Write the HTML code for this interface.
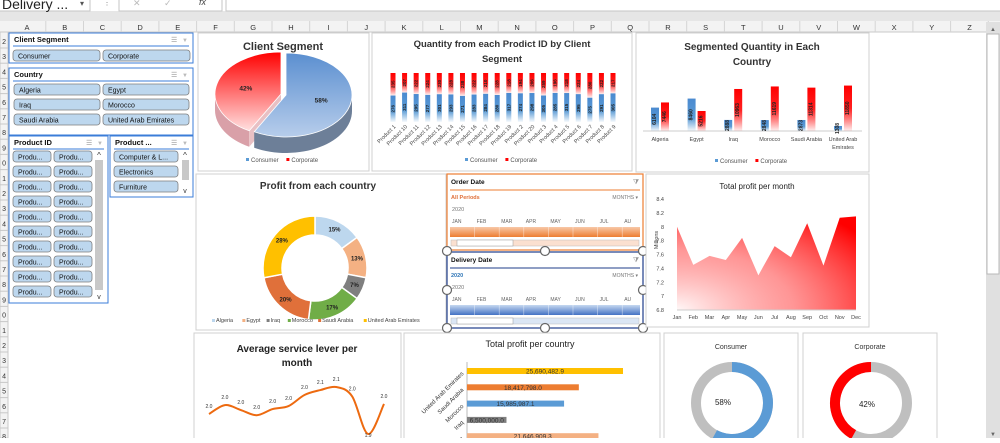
<!DOCTYPE html>
<html><head><meta charset="utf-8">
<style>
html,body{margin:0;padding:0;background:#fff;}
body{width:1000px;height:438px;overflow:hidden;position:relative;font-family:"Liberation Sans",sans-serif;}
svg text{font-family:"Liberation Sans",sans-serif;}
</style></head>
<body>
<svg id="s" width="1000" height="438" viewBox="0 0 1000 438" xmlns="http://www.w3.org/2000/svg">
<defs>
<linearGradient id="gBlueV" x1="0" y1="0" x2="0" y2="1"><stop offset="0" stop-color="#4a8ad0"/><stop offset="0.6" stop-color="#5b9bd5"/><stop offset="1" stop-color="#5b9bd5" stop-opacity="0.05"/></linearGradient>
<linearGradient id="gRedV" x1="0" y1="0" x2="0" y2="1"><stop offset="0" stop-color="#ff0000"/><stop offset="0.5" stop-color="#ff2020"/><stop offset="1" stop-color="#ff0000" stop-opacity="0.05"/></linearGradient>
<radialGradient id="gArea" cx="0" cy="1" r="1.3"><stop offset="0" stop-color="#ff0000" stop-opacity="0.03"/><stop offset="0.5" stop-color="#ff4040" stop-opacity="0.55"/><stop offset="1" stop-color="#ff0000" stop-opacity="1"/></radialGradient>
<linearGradient id="gPieBlue" x1="0" y1="0" x2="0" y2="1"><stop offset="0" stop-color="#5b8fd0"/><stop offset="1" stop-color="#b7cdeb"/></linearGradient>
<linearGradient id="gPieRed" x1="0" y1="0" x2="0" y2="1"><stop offset="0" stop-color="#ff0000"/><stop offset="1" stop-color="#ffe0e0"/></linearGradient>
<linearGradient id="gOrangeBar" x1="0" y1="0" x2="0" y2="1"><stop offset="0" stop-color="#f8c8a8"/><stop offset="1" stop-color="#ed7d31"/></linearGradient>
<linearGradient id="gBlueBar" x1="0" y1="0" x2="0" y2="1"><stop offset="0" stop-color="#c6d8f0"/><stop offset="1" stop-color="#4472c4"/></linearGradient>
</defs>
<g id="chrome"></g>
<g id="slicers"></g>
<g id="charts"></g>
</svg>
<script>
const NS='http://www.w3.org/2000/svg';
const S=document.getElementById('s');
function mk(tag,attrs,parent){const e=document.createElementNS(NS,tag);for(const k in attrs)e.setAttribute(k,attrs[k]);(parent||S).appendChild(e);return e;}
function tx(x,y,str,attrs,parent){const e=mk('text',Object.assign({x:x,y:y,'font-size':7,fill:'#333'},attrs||{}),parent);e.textContent=str;return e;}

/* ===== DATA ===== */
const segLabels=['Consumer','Corporate'];
const segShare=[58,42];
const products=['Product 1','Product 10','Product 11','Product 12','Product 13','Product 14','Product 15','Product 16','Product 17','Product 18','Product 19','Product 2','Product 20','Product 3','Product 4','Product 5','Product 6','Product 7','Product 8','Product 9'];
const prodConsumer=[276,311,295,277,301,293,271,283,284,280,317,274,298,305,285,315,295,275,291,305];
const prodCorporate=[235,207,222,224,230,228,238,222,210,228,218,194,206,259,196,218,224,280,222,217];
const countries=['Algeria','Egypt','Iraq','Morocco','Saudi Arabia','United Arab Emirates'];
const ctyConsumer=[6104,8460,2888,2848,2873,1308];
const ctyCorporate=[7446,5216,10963,11619,11314,11850];
const profitShare=[15,13,7,17,20,28];
const profitColors=['#bdd7ee','#f4b183','#7f7f7f','#70ad47','#e0703a','#ffc000'];
const months=['Jan','Feb','Mar','Apr','May','Jun','Jul','Aug','Sep','Oct','Nov','Dec'];
const monthProfit=[8.0,7.45,7.58,7.52,7.84,7.3,7.72,7.56,8.05,7.44,8.13,8.15];
const monthTicks=[6.8,7,7.2,7.4,7.6,7.8,8,8.2,8.4];
const serviceLevel=[1.965,2.003,1.982,1.96,1.986,1.999,2.046,2.067,2.08,2.04,1.88,2.008];
const barCountries=['United Arab Emirates','Saudi Arabia','Morocco','Iraq','Egypt'];
const barProfit=[25690482.9,18417798.0,15985987.1,6500000,21646909.3];
const barColors=['#ffc000','#ed7d31','#5b9bd5','#7f7f7f','#f4b183'];

/* ===== CHROME ===== */
const C=document.getElementById('chrome');
let e;
e=mk('rect',{x:0,y:11,width:1000,height:10,fill:'#e6e6e6'},C);

e=mk('rect',{x:-2,y:-4,width:92,height:15,fill:'#fff',stroke:'#c6c6c6'},C);

tx(2,9,'Delivery ...',{'font-size':14,fill:'#222'},C);
tx(80,6,'▾',{'font-size':8,fill:'#555'},C);
tx(103,5,'⋮',{'font-size':8,fill:'#888'},C);
e=mk('rect',{x:119,y:-4,width:103,height:15,fill:'#fff',stroke:'#c6c6c6'},C);

tx(133,6,'✕',{'font-size':9,fill:'#bbb'},C);
tx(164,6,'✓',{'font-size':9,fill:'#bbb'},C);
tx(199,5,'fx',{'font-size':9,fill:'#444','font-style':'italic'},C);
e=mk('rect',{x:226,y:-4,width:780,height:15,fill:'#fff',stroke:'#c6c6c6'},C);

e=mk('rect',{x:0,y:21,width:1000,height:11,fill:'#f3f3f3'},C);

mk('line',{x1:0,y1:32,x2:1000,y2:32,stroke:'#c8c8c8'},C);
const cols='ABCDEFGHIJKLMNOPQRSTUVWXYZ';
for(let i=0;i<cols.length;i++){const cx=27+i*37.7;
 tx(cx,30,cols[i],{'text-anchor':'middle','font-size':7.5,fill:'#333'},C);
 mk('line',{x1:cx+18.8,y1:21,x2:cx+18.8,y2:32,stroke:'#d4d4d4'},C);}
e=mk('rect',{x:0,y:32,width:8,height:406,fill:'#f3f3f3',stroke:'#c8c8c8'},C);

for(let i=0;i<27;i++){const ry=33+i*15.2;mk('line',{x1:0,y1:ry+15,x2:8,y2:ry+15,stroke:'#c8c8c8'},C);
 tx(6,ry+11,String((i+2)%10),{'font-size':7,fill:'#333','text-anchor':'end'},C);}
e=mk('rect',{x:986,y:22,width:14,height:416,fill:'#e0e0e0'},C);

e=mk('rect',{x:987,y:34,width:12,height:240,fill:'#fff',stroke:'#b8b8b8'},C);

tx(993,31,'▲',{'font-size':6,fill:'#666','text-anchor':'middle'},C);
tx(993,436,'▼',{'font-size':6,fill:'#666','text-anchor':'middle'},C);

/* ===== SLICERS ===== */
const SL=document.getElementById('slicers');
function slicer(x,y,w,h,title,name){
 const g=mk('g',{},SL);
 mk('rect',{x:x,y:y,width:w,height:h,fill:'#fff',stroke:'#3b7dd8','stroke-width':1},g);
 tx(x+5,y+9,title,{'font-size':7.5,'font-weight':'bold',fill:'#111'},g);
 tx(x+w-22,y+9,'☰',{'font-size':7,fill:'#999'},g);
 tx(x+w-11,y+9,'▼',{'font-size':6,fill:'#bbb'},g);
 mk('line',{x1:x+4,y1:y+13,x2:x+w-4,y2:y+13,stroke:'#3b7dd8'},g);
 return g;}
function btn(g,x,y,w,label,name){const b=mk('rect',{x:x,y:y,width:w,height:11,rx:3,fill:'#bdd7ee',stroke:'#7f7f7f','stroke-width':0.8},g);
 
 tx(x+5,y+8.5,label,{'font-size':7,fill:'#111'},g);}
let g=slicer(9,33,184,30,'Client Segment','client-segment-slicer');
btn(g,13,50,87,'Consumer','consumer-button');btn(g,103,50,87,'Corporate','corporate-button');
g=slicer(9,68,184,67,'Country','country-slicer');
const cb=[['Algeria','Egypt'],['Iraq','Morocco'],['Saudi Arabia','United Arab Emirates']];
for(let r=0;r<3;r++){btn(g,14,84+r*15,86,cb[r][0],'country-button');btn(g,103,84+r*15,86,cb[r][1],'country-button');}
g=slicer(9,136,99,167,'Product ID','product-id-slicer');
for(let r=0;r<10;r++){btn(g,13,151+r*15,38,'Produ...','product-button');btn(g,54,151+r*15,38,'Produ...','product-button');}
e=mk('rect',{x:95,y:160,width:8,height:130,fill:'#c8c8c8'},g);
tx(99,158,'^',{'font-size':8,'text-anchor':'middle',fill:'#333'},g);tx(99,299,'v',{'font-size':7,'text-anchor':'middle',fill:'#333'},g);
g=slicer(110,136,83,61,'Product ...','product-category-slicer');
btn(g,114,151,64,'Computer & L...','category-button');btn(g,114,166,64,'Electronics','category-button');btn(g,114,181,64,'Furniture','category-button');
e=mk('rect',{x:182,y:160,width:7,height:20,fill:'#c8c8c8'},g);
tx(185,158,'^',{'font-size':8,'text-anchor':'middle',fill:'#333'},g);tx(185,193,'v',{'font-size':7,'text-anchor':'middle',fill:'#333'},g);

/* ===== CHARTS ===== */
const CH=document.getElementById('charts');
function panel(x,y,w,h,name){const g=mk('g',{},CH);
 mk('rect',{x:x,y:y,width:w,height:h,fill:'#fff',stroke:'#d0d0d0'},g);return g;}
function legend(g,x,y,items){let cx=x;items.forEach(it=>{const r=mk('rect',{x:cx,y:y-4,width:3,height:3,fill:it[1]},g);
 
 const t=tx(cx+5,y,it[0],{'font-size':6,fill:'#555'},g);cx+=8+it[0].length*3.3+6;});}

/* Client segment 3D pie */
g=panel(198,33,171,138,'client-segment-chart');
tx(283,50,'Client Segment',{'font-size':11,'font-weight':'bold','text-anchor':'middle',fill:'#333'},g);
(function(){const cx=286,cy=95,rx=66,ry=42,d=16;
 const tot=segShare.reduce((a,b)=>a+b,0);
 const a0=-Math.PI/2,a1=a0+2*Math.PI*segShare[0]/tot;
 const P=(a,ox,oy,dy)=>[ox+rx*Math.cos(a),oy+ry*Math.sin(a)+(dy||0)];
 function side(s,e2,ox,oy,fill,name){const st=Math.max(s,0),en=Math.min(e2,Math.PI);if(en<=st)return;
  const p1=P(st,ox,oy),p2=P(en,ox,oy);
  const el=mk('path',{d:`M${p1[0]},${p1[1]} A${rx},${ry} 0 0 1 ${p2[0]},${p2[1]} L${p2[0]},${p2[1]+d} A${rx},${ry} 0 0 0 ${p1[0]},${p1[1]+d} Z`,fill:fill},g);
  }
 const oxR=cx-5,oyR=cy-1;
 side(a1,a0+2*Math.PI,oxR,oyR,'#d9a0a8','pie-side-corporate');
 let pc=P(a1,oxR,oyR);e=mk('path',{d:`M${oxR},${oyR} L${pc[0]},${pc[1]} L${pc[0]},${pc[1]+d} L${oxR},${oyR+d} Z`,fill:'#e8c0c4'},g);
 
 side(a0,a1,cx,cy,'#6d7f98','pie-side-consumer');
 let p0=P(a0,cx,cy),p1=P(a1,cx,cy);
 e=mk('path',{d:`M${cx},${cy} L${p0[0]},${p0[1]} A${rx},${ry} 0 ${(a1-a0)>Math.PI?1:0} 1 ${p1[0]},${p1[1]} Z`,fill:'url(#gPieBlue)',stroke:'#fff','stroke-width':0.8},g);
 
 p0=P(a1,oxR,oyR);p1=P(a0+2*Math.PI,oxR,oyR);
 e=mk('path',{d:`M${oxR},${oyR} L${p0[0]},${p0[1]} A${rx},${ry} 0 ${(2*Math.PI-(a1-a0))>Math.PI?1:0} 1 ${p1[0]},${p1[1]} Z`,fill:'url(#gPieRed)',stroke:'#fff','stroke-width':0.8},g);
 
 const m0=(a0+a1)/2,m1=(a1+a0+2*Math.PI)/2;
 tx(cx+rx*0.55*Math.cos(m0),cy+ry*0.55*Math.sin(m0)+2,segShare[0]+'%',{'font-size':6.5,'font-weight':'bold','text-anchor':'middle',fill:'#222'},g);
 tx(oxR+rx*0.55*Math.cos(m1),oyR+ry*0.55*Math.sin(m1)+2,segShare[1]+'%',{'font-size':6.5,'font-weight':'bold','text-anchor':'middle',fill:'#222'},g);
})();
legend(g,246,162,[['Consumer','#5b9bd5'],['Corporate','#ff0000']]);

/* Quantity by product - 100% stacked */
g=panel(372,33,260,138,'quantity-by-product-chart');
tx(502,47,'Quantity from each Prodict ID by Client',{'font-size':9.5,'font-weight':'bold','text-anchor':'middle',fill:'#333'},g);
tx(502,62,'Segment',{'font-size':9.5,'font-weight':'bold','text-anchor':'middle',fill:'#333'},g);
(function(){const x0=393,x1=613,top=73,bot=122,n=products.length,step=(x1-x0)/(n-1),bw=5;
 const xs=i=>x0+i*step;
 for(let i=0;i<n;i++){const t=prodConsumer[i]+prodCorporate[i];const hb=(bot-top)*prodConsumer[i]/t;const yb=bot-hb;
  let r=mk('rect',{x:xs(i)-bw/2,y:yb,width:bw,height:hb,fill:'url(#gBlueV)'},g);
  
  r=mk('rect',{x:xs(i)-bw/2,y:top,width:bw,height:yb-top,fill:'url(#gRedV)'},g);
  
  tx(xs(i)+1.5,(yb+bot)/2,String(prodConsumer[i]),{'font-size':4.5,'font-weight':'bold','text-anchor':'middle',transform:`rotate(-90 ${xs(i)+1.5} ${(yb+bot)/2})`,fill:'#222'},g);
  tx(xs(i)+1.5,(yb+top)/2,String(prodCorporate[i]),{'font-size':4.5,'font-weight':'bold','text-anchor':'middle',transform:`rotate(-90 ${xs(i)+1.5} ${(yb+top)/2})`,fill:'#222'},g);
  tx(xs(i)+3,127,products[i],{'font-size':5.5,'text-anchor':'end',transform:`rotate(-45 ${xs(i)+3} 127)`,fill:'#444'},g);}
})();
legend(g,465,162,[['Consumer','#5b9bd5'],['Corporate','#ff0000']]);

/* Segmented quantity by country */
g=panel(636,33,233,139,'segmented-quantity-chart');
tx(752,50,'Segmented Quantity in Each',{'font-size':10,'font-weight':'bold','text-anchor':'middle',fill:'#333'},g);
tx(752,65,'Country',{'font-size':10,'font-weight':'bold','text-anchor':'middle',fill:'#333'},g);
(function(){const bot=131,max=12000,h=46,x0=660,step=36.6,bw=8;
 const ys=v=>bot-h*v/max;
 mk('line',{x1:643,y1:bot,x2:862,y2:bot,stroke:'#ccc'},g);
 for(let i=0;i<countries.length;i++){const cx=x0+i*step;
  let r=mk('rect',{x:cx-bw-1,y:ys(ctyConsumer[i]),width:bw,height:bot-ys(ctyConsumer[i]),fill:'url(#gBlueV)'},g);
  
  r=mk('rect',{x:cx+1,y:ys(ctyCorporate[i]),width:bw,height:bot-ys(ctyCorporate[i]),fill:'url(#gRedV)'},g);
  
  const lb=(ys(ctyConsumer[i])+bot)/2,lr=(ys(ctyCorporate[i])+bot)/2;
  tx(cx-4,lb,String(ctyConsumer[i]),{'font-size':5,'font-weight':'bold','text-anchor':'middle',transform:`rotate(-90 ${cx-4} ${lb})`,fill:'#222'},g);
  tx(cx+6,lr,String(ctyCorporate[i]),{'font-size':5,'font-weight':'bold','text-anchor':'middle',transform:`rotate(-90 ${cx+6} ${lr})`,fill:'#222'},g);
  if(countries[i]==='United Arab Emirates'){tx(cx,141,'United Arab',{'font-size':5.5,'text-anchor':'middle',fill:'#444'},g);tx(cx,149,'Emirates',{'font-size':5.5,'text-anchor':'middle',fill:'#444'},g);}
  else tx(cx,141,countries[i],{'font-size':5.5,'text-anchor':'middle',fill:'#444'},g);}
})();
legend(g,715,163,[['Consumer','#5b9bd5'],['Corporate','#ff0000']]);

/* Profit donut */
g=panel(196,174,250,156,'profit-by-country-chart');
tx(318,189,'Profit from each country',{'font-size':10,'font-weight':'bold','text-anchor':'middle',fill:'#333'},g);
(function(){const cx=315,cy=268,ro=52,ri=33;const tot=profitShare.reduce((a,b)=>a+b,0);let a=-Math.PI/2;
 profitShare.forEach((v,i)=>{const b=a+2*Math.PI*v/tot;const L=(b-a)>Math.PI?1:0;
  const p=(r,t)=>(cx+r*Math.cos(t))+','+(cy+r*Math.sin(t));
  const s=mk('path',{d:`M${p(ro,a)} A${ro},${ro} 0 ${L} 1 ${p(ro,b)} L${p(ri,b)} A${ri},${ri} 0 ${L} 0 ${p(ri,a)} Z`,fill:profitColors[i],stroke:'#fff','stroke-width':1.5},g);
  
  const m=(a+b)/2;tx(cx+43*Math.cos(m),cy+43*Math.sin(m)+2,v+'%',{'font-size':6,'font-weight':'bold','text-anchor':'middle',fill:'#222'},g);a=b;});
 let lx=212;countries.forEach((c,i)=>{const r=mk('rect',{x:lx,y:319,width:3,height:3,fill:profitColors[i]},g);
  
  tx(lx+4,322,c,{'font-size':5.5,fill:'#444'},g);lx+=c.length*3.05+9;});
})();

/* Timelines */
function timeline(y,title,color,line,name,sel,barFill){
 const g2=mk('g',{},CH);
 mk('rect',{x:447,y:y,width:196,height:76,fill:'#fff',stroke:color,'stroke-width':1.2},g2);
 tx(451,y+10,title,{'font-size':6.5,'font-weight':'bold',fill:'#111'},g2);
 tx(636,y+10,'⧩',{'font-size':7,fill:'#999','text-anchor':'middle'},g2);
 mk('line',{x1:450,y1:y+16,x2:640,y2:y+16,stroke:line,'stroke-width':1},g2);
 tx(451,y+25,sel,{'font-size':5.5,'font-weight':'bold',fill:sel==='All Periods'?'#e0703a':'#2e75b6'},g2);
 tx(638,y+25,'MONTHS ▾',{'font-size':5,fill:'#777','text-anchor':'end'},g2);
 tx(452,y+37,'2020',{'font-size':5.5,fill:'#777'},g2);
 const ml=['JAN','FEB','MAR','APR','MAY','JUN','JUL','AU'];
 ml.forEach((m,i)=>tx(452+i*24.6,y+49,m,{'font-size':5,fill:'#666'},g2));
 const b=mk('rect',{x:450,y:y+53,width:190,height:10,fill:barFill},g2);
 
 for(let i=1;i<8;i++)mk('line',{x1:450+i*24.6,y1:y+53,x2:450+i*24.6,y2:y+63,stroke:'#fff','stroke-width':0.6,'stroke-opacity':0.6},g2);
 mk('rect',{x:451,y:y+66,width:188,height:6,fill:sel==='All Periods'?'#fbe0d0':'#dbe6f4',stroke:'#bbb','stroke-width':0.5},g2);
 const th=mk('rect',{x:457,y:y+66,width:56,height:6,fill:'#fff',stroke:'#999','stroke-width':0.5},g2);
 
}
timeline(174,'Order Date','#ed7d31','#ed7d31','order-date-timeline','All Periods','url(#gOrangeBar)');
timeline(252,'Delivery Date','#1f3d8a','#1f3d8a','delivery-date-timeline','2020','url(#gBlueBar)');
[[447,251],[545,251],[643,251],[447,290],[643,290],[447,328],[545,328],[643,328]].forEach(p=>{const c=mk('circle',{cx:p[0],cy:p[1],r:4.5,fill:'#fff',stroke:'#666','stroke-width':1.2},CH);
 });

/* Total profit per month area */
g=panel(646,174,223,153,'profit-per-month-chart');
tx(757,189,'Total profit per month',{'font-size':8,'text-anchor':'middle',fill:'#222'},g);
(function(){const x0=677,x1=856,yTop=199,yBot=310,vmin=6.8,vmax=8.4;
 const xs=i=>x0+(x1-x0)*i/(months.length-1),ys=v=>yBot-(v-vmin)/(vmax-vmin)*(yBot-yTop);
 monthTicks.forEach(t=>tx(664,ys(t)+2,String(t),{'font-size':5.5,'text-anchor':'end',fill:'#444'},g));
 tx(658,240,'Millions',{'font-size':5.5,'text-anchor':'middle',transform:'rotate(-90 658 240)',fill:'#444'},g);
 let d=`M${xs(0)},${yBot}`;monthProfit.forEach((v,i)=>d+=` L${xs(i)},${ys(v)}`);d+=` L${xs(months.length-1)},${yBot} Z`;
 const a=mk('path',{d:d,fill:'url(#gArea)'},g);
 mk('line',{x1:x0,y1:yBot,x2:x1,y2:yBot,stroke:'#ccc'},g);
 months.forEach((m,i)=>tx(xs(i),319,m,{'font-size':5.5,'text-anchor':'middle',fill:'#444'},g));
})();

/* Average service level */
g=panel(194,333,207,110,'service-level-chart');
tx(297,352,'Average service lever per',{'font-size':10,'font-weight':'bold','text-anchor':'middle',fill:'#222'},g);
tx(297,366,'month',{'font-size':10,'font-weight':'bold','text-anchor':'middle',fill:'#222'},g);
(function(){const x0=209,x1=384,vRef=2.08,yRef=387,k=235;
 const xs=i=>x0+(x1-x0)*i/(serviceLevel.length-1),ys=v=>yRef+(vRef-v)*k;
 const pts=serviceLevel.map((v,i)=>[xs(i),ys(v)]);
 let d=`M${pts[0][0]},${pts[0][1]}`;
 for(let i=0;i<pts.length-1;i++){const p0=pts[Math.max(i-1,0)],p1=pts[i],p2=pts[i+1],p3=pts[Math.min(i+2,pts.length-1)];
  d+=` C${p1[0]+(p2[0]-p0[0])/6},${p1[1]+(p2[1]-p0[1])/6} ${p2[0]-(p3[0]-p1[0])/6},${p2[1]-(p3[1]-p1[1])/6} ${p2[0]},${p2[1]}`;}
 const l=mk('path',{d:d,fill:'none',stroke:'#ed6a10','stroke-width':2},g);
 serviceLevel.forEach((v,i)=>tx(xs(i),ys(v)-(v<1.9?-3:6),v.toFixed(1),{'font-size':5,'text-anchor':'middle',fill:'#333'},g));
})();

/* Total profit per country bars */
g=panel(404,333,256,110,'profit-per-country-chart');
tx(530,347,'Total profit per country',{'font-size':9,'text-anchor':'middle',fill:'#222'},g);
(function(){const x0=467,k=156/25690482.9,y0=371,step=16.3,bh=6;
 mk('line',{x1:x0,y1:362,x2:x0,y2:438,stroke:'#bbb'},g);
 barCountries.forEach((c,i)=>{const y=y0+i*step,w=barProfit[i]*k;
  const r=mk('rect',{x:x0,y:y-bh/2,width:w,height:bh,fill:barColors[i]},g);
  
  tx(x0+w/2,y+2.5,barProfit[i].toLocaleString('en-US',{minimumFractionDigits:1,maximumFractionDigits:1}),{'font-size':6.5,'text-anchor':'middle',fill:'#333'},g);
  tx(x0-3,y+3,c,{'font-size':6,'text-anchor':'end',transform:`rotate(-45 ${x0-3} ${y+3})`,fill:'#333'},g);});
})();

/* Segment ring gauges */
function gauge(x,title,pct,color,name,clockwiseFromTop){
 const g2=panel(x,333,134,110,name);
 tx(x+67,349,title,{'font-size':7,'text-anchor':'middle',fill:'#333'},g2);
 const cx=x+68,cy=403,r=36;
 mk('circle',{cx:cx,cy:cy,r:r,fill:'none',stroke:'#bfbfbf','stroke-width':10},g2);
 const a0=-Math.PI/2,sw=2*Math.PI*pct/100,a1=clockwiseFromTop?a0+sw:a0-sw;
 const p=t=>(cx+r*Math.cos(t))+','+(cy+r*Math.sin(t));
 const arc=mk('path',{d:`M${p(a0)} A${r},${r} 0 ${sw>Math.PI?1:0} ${clockwiseFromTop?1:0} ${p(a1)}`,fill:'none',stroke:color,'stroke-width':10},g2);
 
 tx(clockwiseFromTop?cx-9:cx-4,clockwiseFromTop?405:407,pct+'%',{'font-size':8,'text-anchor':'middle',fill:'#222'},g2);
}
gauge(664,'Consumer',segShare[0],'#5b9bd5','consumer-gauge',true);
gauge(803,'Corporate',segShare[1],'#ff0000','corporate-gauge',false);
</script>
</body></html>
